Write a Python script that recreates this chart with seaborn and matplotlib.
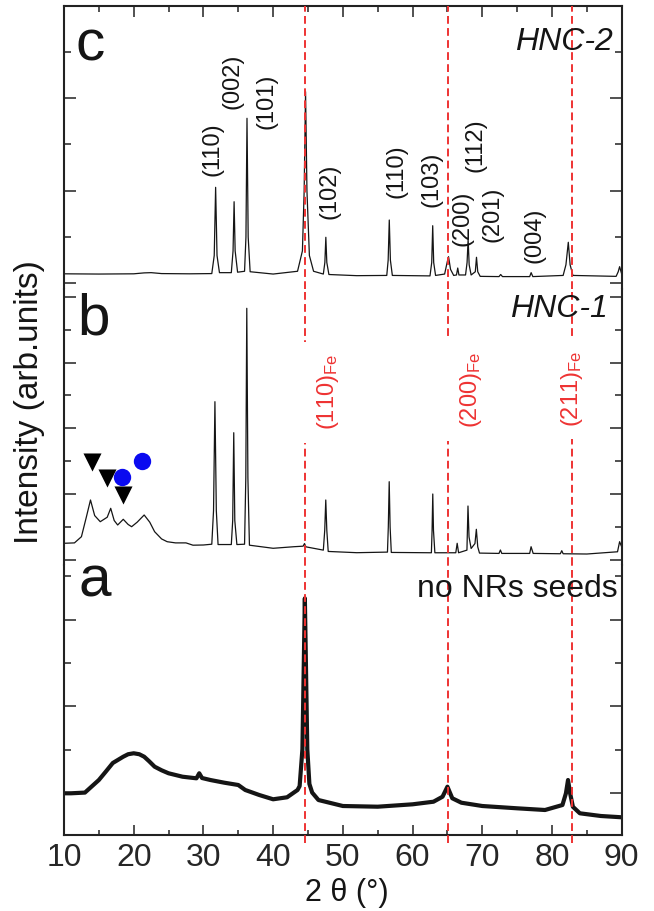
import matplotlib
matplotlib.use('Agg')
import matplotlib.pyplot as plt
import seaborn as sns

# ---------------- data ----------------
# panel c : HNC-2
c_x = [10.0, 15.0, 20.0, 21.5, 22.5, 24.0, 28.0, 31.2, 31.55, 31.75, 31.95, 32.3,
       34.0, 34.25, 34.4, 34.55, 34.9, 35.9, 36.1, 36.25, 36.42, 36.7, 40.0, 43.5,
       44.2, 44.45, 44.65, 44.85, 45.2, 45.8, 47.2, 47.42, 47.56, 47.7, 48.0, 52.0,
       56.3, 56.5, 56.66, 56.82, 57.1, 62.5, 62.75, 62.89, 63.03, 63.3, 64.6, 65.0,
       65.16, 65.45, 65.9, 66.3, 66.48, 66.65, 67.6, 67.82, 67.97, 68.12, 68.4,
       69.0, 69.17, 69.35, 69.7, 72.4, 72.64, 72.9, 76.8, 77.01, 77.25, 81.6, 82.0,
       82.34, 82.6, 83.0, 89.2, 89.5, 89.7, 90.0]
c_y = [205, 200, 205, 225, 230, 210, 205, 210, 600, 2073, 600, 230,
       230, 700, 1762, 700, 240, 260, 1000, 3564, 1000, 250, 200, 260,
       700, 2000, 4138, 2000, 600, 260, 200, 450, 994, 450, 190, 165,
       170, 500, 1367, 500, 170, 160, 450, 1244, 450, 170, 200, 480,
       575, 300, 170, 180, 330, 180, 180, 450, 950, 400, 180,
       250, 562, 250, 150, 145, 190, 145, 145, 230, 145, 170, 400,
       886, 400, 170, 150, 250, 359, 200]

# panel b : HNC-1
b_x = [10.0, 11.5, 12.5, 13.2, 13.8, 14.4, 15.2, 16.2, 16.7, 17.2, 17.7, 18.5,
       19.2, 19.7, 20.5, 21.5, 22.3, 23.0, 24.0, 24.8, 26.0, 27.5, 28.5, 30.0,
       31.2, 31.45, 31.65, 31.85, 32.1, 34.0, 34.2, 34.35, 34.5, 34.8, 35.9, 36.08,
       36.22, 36.38, 36.6, 40.0, 43.0, 44.3, 44.5, 44.7, 47.2, 47.4, 47.55, 47.7,
       47.9, 52.0, 56.4, 56.52, 56.65, 56.78, 56.95, 62.7, 62.8, 62.9, 63.0, 63.2,
       66.2, 66.4, 66.6, 67.8, 67.95, 68.1, 68.4, 68.95, 69.15, 69.35, 69.6, 72.4,
       72.6, 72.8, 76.8, 77.0, 77.3, 81.2, 81.4, 81.6, 85.0, 89.4, 89.7, 90.0]
b_y = [508, 520, 708, 1300, 1824, 1350, 1164, 1300, 1571, 1200, 1064, 1237,
       1080, 1012, 1150, 1368, 1150, 860, 640, 556, 520, 520, 450, 456,
       480, 1500, 4812, 1500, 470, 470, 1200, 3869, 1200, 470, 480, 2500,
       7650, 2500, 450, 356, 404, 420, 500, 400, 300, 900, 1824, 900,
       260, 222, 240, 1000, 2380, 1000, 230, 220, 900, 2006, 900, 220,
       220, 508, 220, 300, 1641, 700, 350, 500, 933, 400, 210, 200,
       304, 200, 200, 404, 200, 190, 283, 190, 182, 250, 556, 400]

# panel a : no NRs seeds
a_x = [10.0, 11.0, 13.0, 15.0, 16.0, 17.0, 18.5, 19.2, 20.0, 20.8, 21.5, 22.2,
       23.0, 24.0, 25.0, 27.0, 29.0, 29.4, 29.8, 31.0, 33.0, 35.0, 36.0, 38.0,
       40.0, 42.0, 43.5, 43.8, 44.2, 44.4, 44.55, 44.7, 44.9, 45.2, 45.6, 46.5,
       50.0, 55.0, 60.0, 63.0, 64.3, 65.0, 65.7, 67.0, 70.0, 75.0, 79.0, 81.5,
       82.0, 82.3, 82.6, 83.0, 84.0, 87.0, 90.0]
a_y = [0, 0, 16, 306, 500, 698, 843, 900, 922, 900, 843, 740,
       613, 530, 461, 382, 345, 461, 352, 306, 244, 191, 76, -39,
       -138, -92, 76, 166, 1016, 3016, 4493, 3016, 1016, 216, 16, -155,
       -293, -309, -254, -194, -79, 152, -115, -217, -293, -346, -385, -270,
       0, 306, 0, -311, -461, -523, -553]

# hkl labels in panel c
c_labels = ["(110)", "(002)", "(101)", "(102)", "(110)", "(103)",
            "(200)", "(112)", "(201)", "(004)"]
c_label_x = [31.3, 34.2, 39.0, 48.1, 57.7, 62.7, 67.1, 69.05, 71.4, 77.5]
c_label_y = [2901, 4369, 3937, 1994, 2415, 2253, 1410, 2987, 1497, 1043]

# Fe reflections
fe_x = [44.6, 65.1, 82.9]
fe_labels = ["(110)", "(200)", "(211)"]
fe_label_x = [47.9, 68.4, 82.8]
fe_label_y = [5106, 5167, 5198]

# symbols in panel b
tri_x = [14.0, 16.2, 18.4]
tri_y = [2988, 2483, 1976]
circ_x = [18.3, 21.2]
circ_y = [2532, 3018]

x_ticks = [10, 20, 30, 40, 50, 60, 70, 80, 90]

# ---------------- style ----------------
sns.set_style('ticks')
plt.rcParams['font.family'] = ['Liberation Sans', 'DejaVu Sans']
plt.rcParams['mathtext.fontset'] = 'custom'
plt.rcParams['mathtext.rm'] = 'Liberation Sans'
plt.rcParams['mathtext.it'] = 'Liberation Sans:italic'

W, H = 654, 911
fig = plt.figure(figsize=(W / 100, H / 100), dpi=100)
L, R = 64, 621.7


def add_ax(top_px, bot_px):
    return fig.add_axes([L / W, 1 - bot_px / H, (R - L) / W, (bot_px - top_px) / H])


ax_c = add_ax(5.7, 289)
ax_b = add_ax(289, 565)
ax_a = add_ax(565, 835)

RED = '#ee3333'
INK = '#151515'
SPINE = '#222222'

sns.lineplot(x=c_x, y=c_y, ax=ax_c, color=INK, lw=0.9, sort=False, estimator=None, zorder=2)
sns.lineplot(x=b_x, y=b_y, ax=ax_b, color=INK, lw=0.9, sort=False, estimator=None, zorder=2)
sns.lineplot(x=a_x, y=a_y, ax=ax_a, color=INK, lw=3.0, sort=False, estimator=None, zorder=2)

ax_c.set_ylim(-123, 5996)
ax_b.set_ylim(-152, 8237)
ax_a.set_ylim(-961, 5260)

for ax in (ax_c, ax_b, ax_a):
    ax.set_xlim(10, 90)
    ax.set_xlabel('')
    ax.set_ylabel('')
    for s in ax.spines.values():
        s.set_linewidth(1.5)
        s.set_color(SPINE)
    ax.tick_params(axis='y', which='both', direction='in', left=True, right=True,
                   labelleft=False, labelright=False, width=1.1, color=SPINE)
    ax.tick_params(axis='y', which='major', length=8.5)
    ax.tick_params(axis='y', which='minor', length=5)
    ax.set_xticks(x_ticks)
    ax.set_xticks(list(range(15, 90, 10)), minor=True)
    for fx in fe_x:
        if ax is ax_a:
            ax.axvline(fx, ymin=-8 / 270, ymax=1, color=RED, lw=1.4,
                       ls=(0, (4, 2.2)), zorder=3, clip_on=False)
        else:
            ax.axvline(fx, color=RED, lw=1.4, ls=(0, (4, 2.2)), zorder=3)

ax_c.set_yticks([0, 2000, 4000])
ax_c.set_yticks([1000, 3000, 5000], minor=True)
ax_b.set_yticks([0, 2000, 4000, 6000, 8000])
ax_b.set_yticks([1000, 3000, 5000, 7000], minor=True)
ax_a.set_yticks([0, 2000, 4000])
ax_a.set_yticks([1000, 3000, 5000], minor=True)

ax_c.spines['bottom'].set_visible(False)
ax_b.spines['top'].set_visible(False)
ax_b.spines['bottom'].set_visible(False)
ax_a.spines['top'].set_visible(False)

ax_c.tick_params(axis='x', which='both', direction='in', top=True, bottom=False,
                 labeltop=False, labelbottom=False, width=1.1, color=SPINE)
ax_c.tick_params(axis='x', which='major', length=8)
ax_c.tick_params(axis='x', which='minor', length=4.5)
ax_b.tick_params(axis='x', which='both', top=False, bottom=False,
                 labeltop=False, labelbottom=False)
ax_a.tick_params(axis='x', which='both', direction='in', top=False, bottom=True,
                 labelbottom=True, width=1.1, color=SPINE)
ax_a.tick_params(axis='x', which='major', length=7.5, labelsize=23, pad=6)
ax_a.tick_params(axis='x', which='minor', length=3.5)

# hkl labels
for lab, lx, ly in zip(c_labels, c_label_x, c_label_y):
    ax_c.text(lx, ly, lab, rotation=90, ha='center', va='center', fontsize=17, color=INK)

# Fe labels
for lab, lx, ly in zip(fe_labels, fe_label_x, fe_label_y):
    ax_b.text(lx, ly, lab + r'$_{\mathrm{Fe}}$', rotation=90, ha='center', va='center',
              fontsize=17, color=RED, zorder=5,
              bbox=dict(facecolor='white', edgecolor='none', pad=9))

# symbols
sns.scatterplot(x=tri_x, y=tri_y, ax=ax_b, marker='v', s=13 ** 2, color='black',
                linewidth=0, zorder=6)
sns.scatterplot(x=circ_x, y=circ_y, ax=ax_b, marker='o', s=12.5 ** 2, color='#0a0af0',
                linewidth=0, zorder=7)

# panel letters and sample names
ax_c.text(11.7, 4823, 'c', fontsize=42, ha='left', va='baseline', color=INK)
ax_b.text(11.9, 6839, 'b', fontsize=42, ha='left', va='baseline', color=INK)
ax_a.text(12.1, 4523, 'a', fontsize=42, ha='left', va='baseline', color=INK)
ax_c.text(88.7, 5039, 'HNC-2', fontsize=23, style='italic', ha='right', va='baseline', color=INK)
ax_b.text(88.0, 7386, 'HNC-1', fontsize=23, style='italic', ha='right', va='baseline', color=INK)
ax_a.text(89.45, 4523, 'no NRs seeds', fontsize=23, ha='right', va='baseline', color=INK)

# axis titles
fig.text(30 / W, 1 - 402 / H, 'Intensity (arb.units)', rotation=90, ha='center',
         va='center', fontsize=24, color=INK)
fig.text(347 / W, 1 - 893 / H, '2 θ (°)', ha='center', va='center', fontsize=22, color=INK)

fig.savefig('out.png', dpi=100)
